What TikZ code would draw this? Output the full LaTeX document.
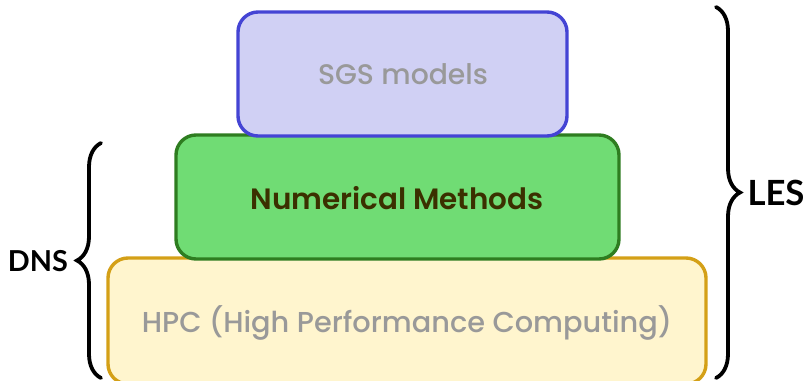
\documentclass[tikz,border=0pt]{standalone}
\usepackage{fontspec}
\setmainfont{Poppins}
\newfontfamily\medfont{Poppins Medium}
\newfontfamily\semifont{Poppins SemiBold}
\newfontfamily\labfont{Lato}
\usetikzlibrary{decorations.pathreplacing}
\definecolor{sgsfill}{HTML}{D0D0F4}
\definecolor{sgsdraw}{HTML}{4444D4}
\definecolor{numfill}{HTML}{70DC74}
\definecolor{numdraw}{HTML}{2E7D20}
\definecolor{numtext}{HTML}{3B3000}
\definecolor{hpcfill}{HTML}{FFF5CE}
\definecolor{hpcdraw}{HTML}{D4A017}
\definecolor{greytext}{HTML}{999999}
\tikzset{
  layer/.style={rounded corners=20pt, line width=3.4pt},
  bracepath/.style={decorate, line width=3.8pt, line cap=round,
    decoration={brace, amplitude=24pt, aspect=0.5}},
  sidelabel/.style={font=\labfont\bfseries, text=black, inner sep=0pt, anchor=base},
  boxtext/.style={inner sep=0pt, anchor=base, font=\medfont}
}
\begin{document}
\begin{tikzpicture}[x=1pt, y=-1pt]
\useasboundingbox (0,0) rectangle (808,380);
% boxes, bottom first
\draw[layer, draw=hpcdraw, fill=hpcfill] (108,258) rectangle (706,384);
\node[boxtext, text=greytext] (hpc) at (407,332) {\resizebox{530pt}{!}{HPC (High Performance Computing)}};
\draw[layer, draw=numdraw, fill=numfill] (176,135) rectangle (619,259);
\node[boxtext, text=numtext, font=\semifont] (num) at (397,209) {\resizebox{293pt}{!}{Numerical Methods}};
\draw[layer, draw=sgsdraw, fill=sgsfill] (238,12) rectangle (567,136);
\node[boxtext, text=greytext] (sgs) at (403,84) {\resizebox{170pt}{!}{SGS models}};
% braces
\coordinate (dnsTop) at (101,143);
\coordinate (dnsBot) at (101,378);
\draw[bracepath] (dnsBot) -- (dnsTop);
\node[sidelabel] (dns) at (38,271) {\resizebox{60pt}{!}{DNS}};
\coordinate (lesTop) at (716,7);
\coordinate (lesBot) at (716,378);
\draw[bracepath] (lesTop) -- (lesBot);
\node[sidelabel] (les) at (776,205) {\resizebox{57pt}{!}{LES}};
\end{tikzpicture}
\end{document}
